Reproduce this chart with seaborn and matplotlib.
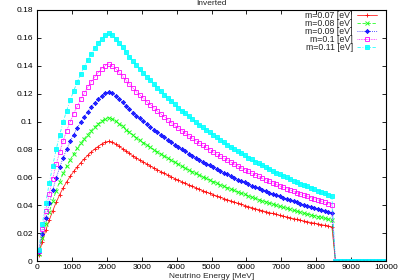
import matplotlib
matplotlib.use("Agg")
import matplotlib.pyplot as plt
import seaborn as sns

# Neutrino energy grid (MeV): points every 100 MeV, spectrum cut at 8500 MeV
energy = list(range(50, 10000, 100))

# zero beyond the cut (8550 ... 9950)
tail = [0.0, 0.0, 0.0, 0.0, 0.0, 0.0, 0.0, 0.0, 0.0, 0.0, 0.0, 0.0, 0.0, 0.0, 0.0]

m007 = [0.0043, 0.0138, 0.0219, 0.0292, 0.0359, 0.0421, 0.0476, 0.0525, 0.0568, 0.0606,
        0.0642, 0.0674, 0.0704, 0.0731, 0.0757, 0.0781, 0.0802, 0.0821, 0.0838, 0.0851,
        0.0858, 0.0851, 0.0839, 0.0823, 0.0806, 0.0788, 0.0771, 0.0753, 0.0738, 0.0723,
        0.0709, 0.0695, 0.0681, 0.0667, 0.0654, 0.0641, 0.0628, 0.0615, 0.0603, 0.0591,
        0.0579, 0.0568, 0.0556, 0.0545, 0.0535, 0.0525, 0.0514, 0.0504, 0.0495, 0.0485,
        0.0476, 0.0466, 0.0457, 0.0448, 0.0439, 0.0431, 0.0422, 0.0414, 0.0406, 0.0398,
        0.0390, 0.0383, 0.0375, 0.0368, 0.0361, 0.0354, 0.0347, 0.0341, 0.0334, 0.0328,
        0.0322, 0.0316, 0.0310, 0.0304, 0.0298, 0.0292, 0.0286, 0.0281, 0.0276, 0.0271,
        0.0266, 0.0261, 0.0255, 0.0250, 0.0245] + tail

m008 = [0.0052, 0.0165, 0.0263, 0.0350, 0.0431, 0.0505, 0.0570, 0.0628, 0.0680, 0.0726,
        0.0768, 0.0808, 0.0844, 0.0876, 0.0906, 0.0935, 0.0961, 0.0984, 0.1003, 0.1020,
        0.1028, 0.1020, 0.1004, 0.0986, 0.0965, 0.0943, 0.0923, 0.0902, 0.0884, 0.0866,
        0.0849, 0.0832, 0.0816, 0.0799, 0.0783, 0.0767, 0.0752, 0.0736, 0.0722, 0.0708,
        0.0693, 0.0680, 0.0666, 0.0653, 0.0641, 0.0628, 0.0616, 0.0604, 0.0592, 0.0581,
        0.0570, 0.0558, 0.0547, 0.0537, 0.0526, 0.0516, 0.0506, 0.0495, 0.0486, 0.0477,
        0.0468, 0.0458, 0.0449, 0.0441, 0.0433, 0.0424, 0.0416, 0.0408, 0.0400, 0.0392,
        0.0385, 0.0378, 0.0371, 0.0364, 0.0356, 0.0349, 0.0343, 0.0337, 0.0331, 0.0324,
        0.0318, 0.0312, 0.0306, 0.0300, 0.0294] + tail

m009 = [0.0061, 0.0194, 0.0310, 0.0413, 0.0508, 0.0595, 0.0672, 0.0741, 0.0802, 0.0857,
        0.0906, 0.0953, 0.0995, 0.1033, 0.1069, 0.1103, 0.1134, 0.1160, 0.1183, 0.1203,
        0.1213, 0.1203, 0.1185, 0.1163, 0.1138, 0.1113, 0.1089, 0.1064, 0.1042, 0.1022,
        0.1001, 0.0982, 0.0962, 0.0943, 0.0923, 0.0905, 0.0887, 0.0869, 0.0852, 0.0835,
        0.0818, 0.0802, 0.0786, 0.0770, 0.0756, 0.0741, 0.0727, 0.0712, 0.0699, 0.0685,
        0.0672, 0.0659, 0.0645, 0.0633, 0.0621, 0.0609, 0.0597, 0.0584, 0.0573, 0.0563,
        0.0552, 0.0541, 0.0530, 0.0520, 0.0510, 0.0501, 0.0491, 0.0481, 0.0471, 0.0463,
        0.0454, 0.0446, 0.0437, 0.0429, 0.0420, 0.0412, 0.0405, 0.0397, 0.0390, 0.0383,
        0.0375, 0.0368, 0.0361, 0.0354, 0.0346] + tail

m010 = [0.0071, 0.0226, 0.0361, 0.0481, 0.0591, 0.0693, 0.0782, 0.0863, 0.0934, 0.0998,
        0.1056, 0.1109, 0.1159, 0.1203, 0.1245, 0.1285, 0.1320, 0.1351, 0.1378, 0.1401,
        0.1412, 0.1401, 0.1380, 0.1354, 0.1326, 0.1296, 0.1268, 0.1240, 0.1214, 0.1190,
        0.1166, 0.1143, 0.1121, 0.1098, 0.1075, 0.1054, 0.1033, 0.1012, 0.0992, 0.0972,
        0.0952, 0.0934, 0.0916, 0.0897, 0.0880, 0.0863, 0.0846, 0.0829, 0.0814, 0.0798,
        0.0782, 0.0767, 0.0751, 0.0737, 0.0723, 0.0709, 0.0695, 0.0681, 0.0668, 0.0655,
        0.0642, 0.0630, 0.0617, 0.0606, 0.0594, 0.0583, 0.0572, 0.0560, 0.0549, 0.0539,
        0.0529, 0.0519, 0.0509, 0.0500, 0.0490, 0.0480, 0.0471, 0.0463, 0.0454, 0.0446,
        0.0437, 0.0429, 0.0420, 0.0412, 0.0403] + tail

m011 = [0.0078, 0.0262, 0.0417, 0.0556, 0.0683, 0.0801, 0.0904, 0.0997, 0.1079, 0.1153,
        0.1220, 0.1282, 0.1339, 0.1390, 0.1439, 0.1485, 0.1525, 0.1561, 0.1592, 0.1619,
        0.1632, 0.1619, 0.1594, 0.1565, 0.1532, 0.1498, 0.1465, 0.1432, 0.1403, 0.1375,
        0.1347, 0.1321, 0.1295, 0.1269, 0.1243, 0.1218, 0.1194, 0.1169, 0.1146, 0.1123,
        0.1100, 0.1079, 0.1058, 0.1037, 0.1017, 0.0997, 0.0978, 0.0958, 0.0940, 0.0922,
        0.0904, 0.0886, 0.0868, 0.0852, 0.0835, 0.0819, 0.0803, 0.0786, 0.0772, 0.0757,
        0.0742, 0.0728, 0.0713, 0.0700, 0.0687, 0.0674, 0.0661, 0.0647, 0.0634, 0.0623,
        0.0611, 0.0600, 0.0589, 0.0577, 0.0566, 0.0554, 0.0544, 0.0535, 0.0525, 0.0515,
        0.0505, 0.0495, 0.0486, 0.0476, 0.0466] + tail

labels = ['m=0.07 [eV]', 'm=0.08 [eV]', 'm=0.09 [eV]', 'm=0.1 [eV]', 'm=0.11 [eV]']
series = [m007, m008, m009, m010, m011]

# gnuplot-like styles
colors = ['#ff0000', '#00ff00', '#0000ff', '#ff00ff', '#00ffff']
markers = ['+', 'x', (8, 2, 0), 's', 's']
linestyles = ['-', (0, (4, 2)), (0, (1, 1.5)), (0, (1, 1)), (0, (4, 2, 1, 2))]
filled = [True, True, True, False, True]

sns.set_style('ticks')
plt.rcParams['font.family'] = ['Liberation Sans', 'DejaVu Sans']

fig = plt.figure(figsize=(4, 2.8), dpi=100)
ax = fig.add_axes([37 / 400, 19 / 280, 349 / 400, 251 / 280])

for vals, lab, c, mk, ls, fl in zip(series, labels, colors, markers, linestyles, filled):
    sns.lineplot(x=energy, y=vals, ax=ax, color=c, marker=mk, linestyle=ls,
                 linewidth=0.6, markersize=3.0, markeredgewidth=0.7,
                 markerfacecolor=(c if fl else 'none'), markeredgecolor=c,
                 label=lab, estimator=None, sort=False, alpha=0.85)

ax.set_xlim(0, 10000)
ax.set_ylim(0, 0.18)
ax.set_xticks(range(0, 10001, 1000))
ax.set_yticks([0, 0.02, 0.04, 0.06, 0.08, 0.1, 0.12, 0.14, 0.16, 0.18])
ax.set_yticklabels(['0', '0.02', '0.04', '0.06', '0.08', '0.1', '0.12', '0.14', '0.16', '0.18'])
ax.tick_params(direction='in', length=3, width=0.6, top=True, right=True,
               labelsize=6, pad=3, colors='black')
ax.tick_params(axis='x', pad=2)
for s in ax.spines.values():
    s.set_color('black')
    s.set_linewidth(0.8)
ax.set_xlabel('')
ax.set_ylabel('')

leg = ax.legend(loc='upper right', bbox_to_anchor=(0.975, 0.997), frameon=False,
                markerfirst=False, handlelength=2.3, handletextpad=0.5,
                labelspacing=-0.1, fontsize=6.3, borderaxespad=0, borderpad=0)
for col in leg._legend_handle_box.get_children():
    col.align = 'right'

fig.text(0.529, 1.0, 'Inverted', ha='center', va='top', fontsize=6)
fig.text(0.529, 0.0, 'Neutrino Energy [MeV]', ha='center', va='bottom', fontsize=6)

fig.savefig('out.png', dpi=100, facecolor='white')
